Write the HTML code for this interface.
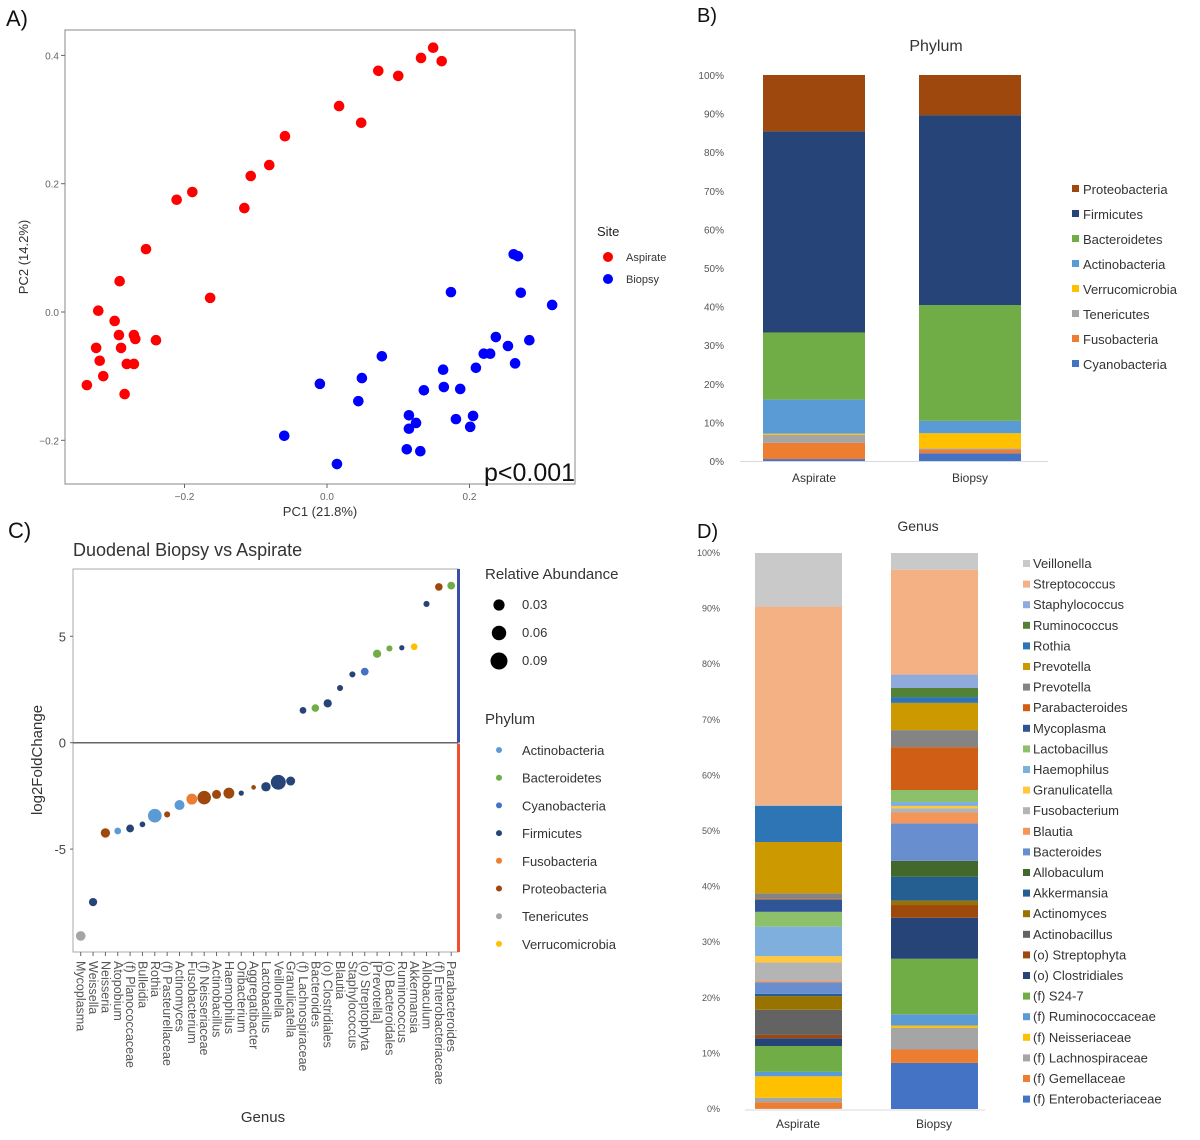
<!DOCTYPE html>
<html><head><meta charset="utf-8">
<style>
html,body{margin:0;padding:0;background:#fff;}
svg{display:block;font-family:"Liberation Sans Narrow","Liberation Sans",sans-serif;}
</style></head>
<body>
<svg id="fig" width="1200" height="1140" viewBox="0 0 1200 1140" xmlns="http://www.w3.org/2000/svg">
<g id="pA"></g>
<g id="pB"></g>
<g id="pC"></g>
<g id="pD"></g>
</svg>
<script>
// ---------- Panel A data ----------
const aspPC1=[0.149,0.161,0.132,0.100,0.072,0.017,0.048,-0.059,-0.081,-0.107,-0.116,-0.189,-0.211,-0.254,-0.291,-0.164,-0.321,-0.298,-0.324,-0.319,-0.314,-0.337,-0.292,-0.289,-0.271,-0.269,-0.271,-0.281,-0.284,-0.240];
const aspPC2=[0.412,0.391,0.396,0.368,0.376,0.321,0.295,0.274,0.229,0.212,0.162,0.187,0.175,0.098,0.048,0.022,0.002,-0.014,-0.056,-0.076,-0.100,-0.114,-0.036,-0.056,-0.036,-0.042,-0.081,-0.081,-0.128,-0.044];
const bioPC1=[0.262,0.268,0.174,0.272,0.316,0.254,0.237,0.229,0.220,0.209,0.264,0.284,0.077,0.163,0.136,0.164,0.187,0.181,0.205,0.201,0.115,0.125,0.115,0.131,0.112,0.049,0.044,-0.010,-0.060,0.014];
const bioPC2=[0.090,0.087,0.031,0.030,0.011,-0.053,-0.039,-0.065,-0.065,-0.087,-0.080,-0.044,-0.069,-0.090,-0.122,-0.117,-0.120,-0.167,-0.162,-0.179,-0.161,-0.173,-0.182,-0.217,-0.214,-0.103,-0.139,-0.112,-0.193,-0.237];
const pcXTicks=[-0.2,0.0,0.2];
const pcYTicks=[-0.2,0.0,0.2,0.4];

// ---------- Panel B data ----------
const phyla=["Cyanobacteria","Fusobacteria","Tenericutes","Verrucomicrobia","Actinobacteria","Bacteroidetes","Firmicutes","Proteobacteria"];
const phylumColors=["#4472c4","#ed7d31","#a5a5a5","#ffc000","#5b9bd5","#70ad47","#264478","#9e480e"];
const siteNames=["Aspirate","Biopsy"];
const aspiratePhylum=[0.5,4.2,2.1,0.3,8.8,17.4,52.1,14.6];
const biopsyPhylum=[2.0,1.0,0.3,3.9,3.2,30.0,49.2,10.4];
const pctTicks=[0,10,20,30,40,50,60,70,80,90,100];

// ---------- Panel C data ----------
const genera=["Mycoplasma","Weissella","Neisseria","Atopobium","(f) Planococcaceae","Bulleidia","Rothia","(f) Pasteurellaceae","Actinomyces","Fusobacterium","(f) Neisseriaceae","Actinobacillus","Haemophilus","Oribacterium","Aggregatibacter","Lactobacillus","Veillonella","Granulicatella","(f) Lachnospiraceae","Bacteroides","(o) Clostridiales","Blautia","Staphylococcus","(o) Streptophyta","[Prevotella]","(o) Bacteroidales","Ruminococcus","Akkermansia","Allobaculum","(f) Enterobacteriaceae","Parabacteroides"];
const log2fc=[-9.08,-7.49,-4.24,-4.15,-4.03,-3.84,-3.43,-3.37,-2.93,-2.65,-2.58,-2.43,-2.37,-2.37,-2.10,-2.07,-1.86,-1.80,1.52,1.63,1.85,2.57,3.21,3.34,4.18,4.43,4.46,4.51,6.52,7.32,7.38];
const abundance=[0.02,0.012,0.018,0.006,0.01,0.003,0.052,0.004,0.022,0.028,0.05,0.016,0.028,0.002,0.001,0.018,0.065,0.016,0.006,0.009,0.012,0.004,0.004,0.01,0.012,0.004,0.002,0.006,0.004,0.009,0.01];
const genusPhylum=["Tenericutes","Firmicutes","Proteobacteria","Actinobacteria","Firmicutes","Firmicutes","Actinobacteria","Proteobacteria","Actinobacteria","Fusobacteria","Proteobacteria","Proteobacteria","Proteobacteria","Firmicutes","Proteobacteria","Firmicutes","Firmicutes","Firmicutes","Firmicutes","Bacteroidetes","Firmicutes","Firmicutes","Firmicutes","Cyanobacteria","Bacteroidetes","Bacteroidetes","Firmicutes","Verrucomicrobia","Firmicutes","Proteobacteria","Bacteroidetes"];
const fcTicks=[-5,0,5];
const sizeLegend=[0.03,0.06,0.09];
const phylumLegend=["Actinobacteria","Bacteroidetes","Cyanobacteria","Firmicutes","Fusobacteria","Proteobacteria","Tenericutes","Verrucomicrobia"];

// ---------- Panel D data (bottom-up stacking) ----------
const genusD=["(f) Enterobacteriaceae","(f) Gemellaceae","(f) Lachnospiraceae","(f) Neisseriaceae","(f) Ruminococcaceae","(f) S24-7","(o) Clostridiales","(o) Streptophyta","Actinobacillus","Actinomyces","Akkermansia","Allobaculum","Bacteroides","Blautia","Fusobacterium","Granulicatella","Haemophilus","Lactobacillus","Mycoplasma","Parabacteroides","Prevotella","Prevotella","Rothia","Ruminococcus","Staphylococcus","Streptococcus","Veillonella"];
const genusDColors=["#4472c4","#ed7d31","#a5a5a5","#ffc000","#5b9bd5","#70ad47","#264478","#9e480e","#636363","#997300","#255e91","#43682b","#698ed0","#f4965a","#b4b4b4","#ffc83d","#7eafdd","#8dc06a","#2f5597","#d05e14","#848484","#cc9900","#2e75b6","#548235","#8faadc","#f4b183","#c9c9c9"];
const aspirateGenus=[0.5,18,12,58,12,70,21,9,68,37,6,0,31,4,50,17,80,40,33,2,15,139,98,0,1,538,145];
const biopsyGenus=[127,37,60,6,31,153,113,35,0,12,66,44,103,30,12,6,11,33,0,118,47,75,16,25,37,289,46];

const NS="http://www.w3.org/2000/svg";
function mk(parent,tag,attrs,text){const e=document.createElementNS(NS,tag);for(const k in attrs)e.setAttribute(k,attrs[k]);if(text!==undefined)e.textContent=text;parent.appendChild(e);return e;}

// ===== Panel A =====
(function(){
const g=document.getElementById('pA');
const L=65,R=575,T=30,B=484;
const xs=v=>327+v*712.5, ys=v=>312-v*641.5;
let e=mk(g,'text',{x:6,y:26,'font-size':22,fill:'#111'},'A)');


e=mk(g,'rect',{x:L,y:T,width:R-L,height:B-T,fill:'#fff',stroke:'#888','stroke-width':1});


pcXTicks.forEach(t=>{
 mk(g,'line',{x1:xs(t),x2:xs(t),y1:B,y2:B+4,stroke:'#666'});
 e=mk(g,'text',{x:xs(t),y:B+16,'font-size':10,fill:'#666','text-anchor':'middle'},t===0?'0.0':String(t).replace('-','\u2212'));
 
 
});
pcYTicks.forEach(t=>{
 mk(g,'line',{x1:L-4,x2:L,y1:ys(t),y2:ys(t),stroke:'#666'});
 e=mk(g,'text',{x:L-6,y:ys(t)+4,'font-size':10,fill:'#666','text-anchor':'end'},t===0?'0.0':String(t).replace('-','\u2212'));
 
 
});
e=mk(g,'text',{x:320,y:516,'font-size':13,fill:'#333','text-anchor':'middle'},'PC1 (21.8%)');


e=mk(g,'text',{x:0,y:0,'font-size':13,fill:'#333','text-anchor':'middle',transform:'translate(28,257) rotate(-90)'},'PC2 (14.2%)');


aspPC1.forEach((v,i)=>{e=mk(g,'circle',{cx:xs(v),cy:ys(aspPC2[i]),r:5.3,fill:'#ff0000'});
 
 });
bioPC1.forEach((v,i)=>{e=mk(g,'circle',{cx:xs(v),cy:ys(bioPC2[i]),r:5.3,fill:'#0000ff'});
 
 });
e=mk(g,'text',{x:484,y:481,'font-size':25,fill:'#111'},'p<0.001');


e=mk(g,'text',{x:597,y:236,'font-size':13,fill:'#222'},'Site');


[['Aspirate','#ff0000',257],['Biopsy','#0000ff',279]].forEach(d=>{
 const lg=mk(g,'g',{});
 
 
 mk(lg,'circle',{cx:608,cy:d[2],r:5,fill:d[1]});
 mk(lg,'text',{x:626,y:d[2]+4,'font-size':11,fill:'#333'},d[0]);
});
})();

// ===== Panel B =====
(function(){
const g=document.getElementById('pB');
const y0=461,y100=75;const ys=p=>y0-(y0-y100)*p/100;
let e=mk(g,'text',{x:697,y:22,'font-size':20,fill:'#111'},'B)');


e=mk(g,'text',{x:936,y:51,'font-size':16,fill:'#333','text-anchor':'middle'},'Phylum');


pctTicks.forEach(t=>{e=mk(g,'text',{x:724,y:ys(t)+4,'font-size':10,fill:'#555','text-anchor':'end'},t+'%');
 
 });
mk(g,'line',{x1:740,x2:1048,y1:y0+0.5,y2:y0+0.5,stroke:'#d9d9d9','stroke-width':1});
const series=[aspiratePhylum,biopsyPhylum];const bx=[763,919];
series.forEach((vals,si)=>{
 const tot=vals.reduce((a,b)=>a+b,0);let acc=0;
 vals.forEach((v,j)=>{const p=v/tot*100;const yt=ys(acc+p),yb=ys(acc);acc+=p;
  e=mk(g,'rect',{x:bx[si],y:yt,width:102,height:Math.max(0,yb-yt),fill:phylumColors[j]});
  
  });
 e=mk(g,'text',{x:bx[si]+51,y:482,'font-size':12,fill:'#333','text-anchor':'middle'},siteNames[si]);
 
 
});
for(let i=phyla.length-1;i>=0;i--){const row=phyla.length-1-i;const y=189+row*25;
 const lg=mk(g,'g',{});
 
 
 mk(lg,'rect',{x:1072,y:y-4,width:7,height:7,fill:phylumColors[i]});
 mk(lg,'text',{x:1083,y:y+5,'font-size':13,fill:'#333'},phyla[i]);}
})();

// ===== Panel C =====
(function(){
const g=document.getElementById('pC');
const L=73,R=458,T=569,B=952;const ys=v=>742.7-v*21.28;const xs=i=>80.7+i*12.35;
const pcol={Actinobacteria:"#5b9bd5",Bacteroidetes:"#70ad47",Cyanobacteria:"#4472c4",Firmicutes:"#264478",Fusobacteria:"#ed7d31",Proteobacteria:"#9e480e",Tenericutes:"#a5a5a5",Verrucomicrobia:"#ffc000"};
const rs=a=>1.6+23*Math.sqrt(a);
let e=mk(g,'text',{x:8,y:538,'font-size':22,fill:'#111'},'C)');


e=mk(g,'text',{x:73,y:556,'font-size':18,fill:'#333'},'Duodenal Biopsy vs Aspirate');


e=mk(g,'rect',{x:L,y:T,width:R-L,height:B-T,fill:'#fff',stroke:'#aaa','stroke-width':1});


e=mk(g,'line',{x1:L,x2:R,y1:ys(0),y2:ys(0),stroke:'#666','stroke-width':1.5});


e=mk(g,'rect',{x:R-1,y:T,width:3,height:ys(0)-T,fill:'#3b4fa8'});


e=mk(g,'rect',{x:R-1,y:ys(0)+1,width:3,height:B-ys(0)-1,fill:'#f05030'});


fcTicks.forEach(t=>{mk(g,'line',{x1:L-3,x2:L,y1:ys(t),y2:ys(t),stroke:'#666'});
 e=mk(g,'text',{x:L-7,y:ys(t)+5,'font-size':13,fill:'#444','text-anchor':'end'},String(t));
 
 });
e=mk(g,'text',{x:0,y:0,'font-size':15,fill:'#333','text-anchor':'middle',transform:'translate(42,760) rotate(-90)'},'log2FoldChange');


genera.forEach((n,i)=>{
 mk(g,'line',{x1:xs(i),x2:xs(i),y1:B,y2:B+4,stroke:'#666'});
 e=mk(g,'text',{x:0,y:0,'font-size':12.5,fill:'#555',transform:`translate(${xs(i)-4},${B+9}) rotate(90)`},n);
 
 
 e=mk(g,'circle',{cx:xs(i),cy:ys(log2fc[i]),r:rs(abundance[i]),fill:pcol[genusPhylum[i]]});
 
 
});
e=mk(g,'text',{x:263,y:1122,'font-size':15,fill:'#333','text-anchor':'middle'},'Genus');


e=mk(g,'text',{x:485,y:579,'font-size':15,fill:'#333'},'Relative  Abundance');


sizeLegend.forEach((a,i)=>{const y=605+i*28;const lg=mk(g,'g',{});
 
 
 mk(lg,'circle',{cx:499,cy:y,r:rs(a),fill:'#000'});
 mk(lg,'text',{x:522,y:y+4,'font-size':13,fill:'#333'},String(a));});
e=mk(g,'text',{x:485,y:724,'font-size':15,fill:'#333'},'Phylum');


phylumLegend.forEach((p,i)=>{const y=750+i*27.7;const lg=mk(g,'g',{});
 
 
 mk(lg,'circle',{cx:499,cy:y,r:3,fill:pcol[p]});
 mk(lg,'text',{x:522,y:y+5,'font-size':13,fill:'#333'},p);});
})();

// ===== Panel D =====
(function(){
const g=document.getElementById('pD');
const y0=1109,y100=553;const ys=p=>y0-(y0-y100)*p/100;
let e=mk(g,'text',{x:697,y:538,'font-size':20,fill:'#111'},'D)');


e=mk(g,'text',{x:918,y:531,'font-size':14,fill:'#333','text-anchor':'middle'},'Genus');


pctTicks.forEach(t=>{e=mk(g,'text',{x:720,y:ys(t)+3,'font-size':9,fill:'#555','text-anchor':'end'},t+'%');
 
 });
mk(g,'line',{x1:745,x2:985,y1:y0+1,y2:y0+1,stroke:'#d9d9d9'});
const series=[aspirateGenus,biopsyGenus];const bx=[755,891];
series.forEach((vals,si)=>{
 const tot=vals.reduce((a,b)=>a+b,0);let acc=0;
 vals.forEach((v,j)=>{const p=v/tot*100;const yt=ys(acc+p),yb=ys(acc);acc+=p;
  e=mk(g,'rect',{x:bx[si],y:yt,width:87,height:Math.max(0,yb-yt),fill:genusDColors[j]});
  
  });
 e=mk(g,'text',{x:bx[si]+43,y:1128,'font-size':12,fill:'#333','text-anchor':'middle'},siteNames[si]);
 
 
});
for(let i=genusD.length-1;i>=0;i--){const row=genusD.length-1-i;const y=563+row*20.6;
 const lg=mk(g,'g',{});
 
 
 mk(lg,'rect',{x:1023,y:y-3,width:7,height:7,fill:genusDColors[i]});
 mk(lg,'text',{x:1033,y:y+5,'font-size':13,fill:'#333'},genusD[i]);}
})();
</script>
</body></html>
